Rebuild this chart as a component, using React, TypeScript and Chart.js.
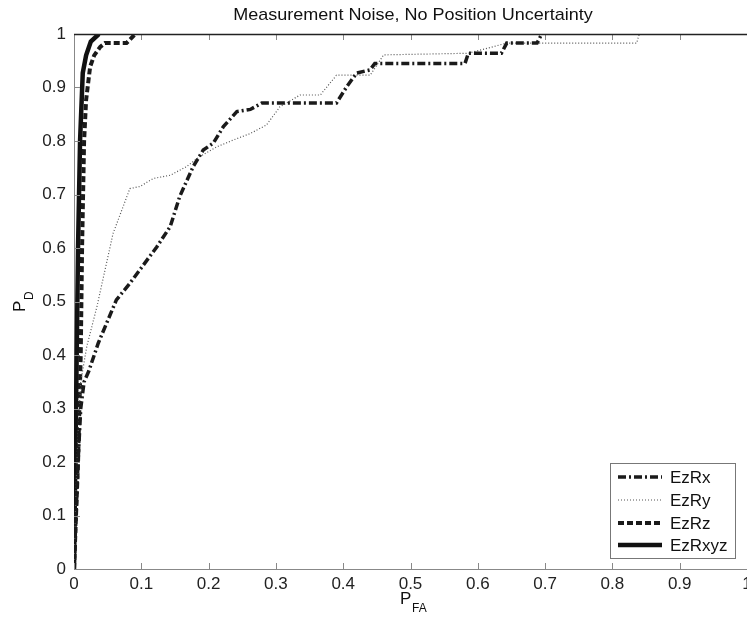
import React, { useEffect, useRef } from "react";
import { Chart, registerables } from "chart.js";

Chart.register(...registerables);

const TITLE = "Measurement Noise, No Position Uncertainty";
const SERIES_NAMES = ["EzRx", "EzRy", "EzRz", "EzRxyz"];
const TICKS = [0, 0.1, 0.2, 0.3, 0.4, 0.5, 0.6, 0.7, 0.8, 0.9, 1];

const ezRxX = [0, 0.003, 0.006, 0.01, 0.015, 0.022, 0.036, 0.063, 0.083, 0.123, 0.143, 0.157, 0.177, 0.192, 0.207, 0.222, 0.242, 0.262, 0.279, 0.39, 0.405, 0.42, 0.44, 0.447, 0.581, 0.586, 0.635, 0.643, 0.688, 0.695];
const ezRxY = [0, 0.1, 0.2, 0.3, 0.35, 0.37, 0.422, 0.503, 0.534, 0.602, 0.64, 0.696, 0.752, 0.783, 0.796, 0.827, 0.855, 0.859, 0.871, 0.871, 0.901, 0.927, 0.933, 0.945, 0.945, 0.964, 0.964, 0.983, 0.983, 1];

const ezRyX = [0, 0.003, 0.006, 0.01, 0.019, 0.034, 0.058, 0.083, 0.098, 0.118, 0.143, 0.167, 0.187, 0.212, 0.237, 0.262, 0.286, 0.306, 0.336, 0.366, 0.39, 0.44, 0.46, 0.586, 0.643, 0.836, 0.84];
const ezRyY = [0, 0.15, 0.25, 0.35, 0.416, 0.49, 0.627, 0.711, 0.715, 0.73, 0.736, 0.752, 0.771, 0.789, 0.802, 0.814, 0.83, 0.864, 0.886, 0.886, 0.923, 0.923, 0.961, 0.964, 0.983, 0.983, 1];

const ezRzX = [0, 0.003, 0.006, 0.008, 0.01, 0.012, 0.015, 0.018, 0.024, 0.03, 0.039, 0.046, 0.078, 0.091];
const ezRzY = [0, 0.1, 0.2, 0.3, 0.4, 0.6, 0.8, 0.877, 0.939, 0.96, 0.976, 0.983, 0.983, 1];

const ezRxyzX = [0, 0.002, 0.004, 0.006, 0.009, 0.013, 0.018, 0.025, 0.037];
const ezRxyzY = [0, 0.2, 0.4, 0.6, 0.8, 0.927, 0.96, 0.986, 1];

const pts = (xs: number[], ys: number[]) => xs.map((x, i) => ({ x, y: ys[i] }));

const FONT = "Arial, 'Liberation Sans', sans-serif";

const styles = [
  { color: "#1a1a1a", width: 3.5, dash: [8, 3, 2, 3] },
  { color: "#555555", width: 1.2, dash: [1, 2] },
  { color: "#1a1a1a", width: 4, dash: [6, 3] },
  { color: "#111111", width: 4.5, dash: [] as number[] },
];

const fmt = (v: number) => String(Number(Number(v).toFixed(1)));

const decorPlugin = {
  id: "decor",
  afterDraw(chart: any) {
    const ctx = chart.ctx;
    const a = chart.chartArea;
    const xs = chart.scales.x;
    const ys = chart.scales.y;
    ctx.save();
    ctx.strokeStyle = "#888";
    ctx.lineWidth = 1;
    TICKS.forEach((v) => {
      const px = Math.round(xs.getPixelForValue(v)) + 0.5;
      ctx.beginPath();
      ctx.moveTo(px, a.bottom);
      ctx.lineTo(px, a.bottom - 6);
      ctx.moveTo(px, a.top);
      ctx.lineTo(px, a.top + 6);
      ctx.stroke();
      const py = Math.round(ys.getPixelForValue(v)) + 0.5;
      ctx.beginPath();
      ctx.moveTo(a.left, py);
      ctx.lineTo(a.left + 6, py);
      ctx.stroke();
    });
    ctx.strokeStyle = "#222";
    ctx.lineWidth = 1.5;
    ctx.beginPath();
    ctx.moveTo(a.left, a.top + 0.5);
    ctx.lineTo(a.right + 40, a.top + 0.5);
    ctx.stroke();

    // title
    ctx.fillStyle = "#111";
    ctx.save();
    ctx.translate(413, 20);
    ctx.scale(1.06, 1);
    ctx.font = `17px ${FONT}`;
    ctx.textAlign = "center";
    ctx.textBaseline = "alphabetic";
    ctx.fillText(TITLE, 0, 0);
    ctx.restore();

    // x label P_FA
    ctx.textAlign = "left";
    ctx.textBaseline = "alphabetic";
    ctx.font = `17px ${FONT}`;
    ctx.fillText("P", 400, 604);
    ctx.font = `12px ${FONT}`;
    ctx.fillText("FA", 412, 612);

    // y label P_D
    ctx.save();
    ctx.translate(25, 312);
    ctx.rotate(-Math.PI / 2);
    ctx.font = `17px ${FONT}`;
    ctx.fillText("P", 0, 0);
    ctx.font = `12px ${FONT}`;
    ctx.fillText("D", 12, 8);
    ctx.restore();

    // legend
    const lx = 610.5, ly = 463.5, lw = 125, lh = 95;
    ctx.fillStyle = "#fff";
    ctx.fillRect(lx, ly, lw, lh);
    ctx.strokeStyle = "#777";
    ctx.lineWidth = 1;
    ctx.strokeRect(lx, ly, lw, lh);
    const rowY = [477, 500, 523, 545];
    SERIES_NAMES.forEach((name, i) => {
      const s = styles[i];
      ctx.strokeStyle = s.color;
      ctx.lineWidth = s.width;
      ctx.setLineDash(s.dash);
      ctx.beginPath();
      ctx.moveTo(618, rowY[i]);
      ctx.lineTo(662, rowY[i]);
      ctx.stroke();
      ctx.setLineDash([]);
      ctx.fillStyle = "#111";
      ctx.font = `17px ${FONT}`;
      ctx.textAlign = "left";
      ctx.textBaseline = "middle";
      ctx.fillText(name, 670, rowY[i] + 1);
    });
    ctx.restore();
  },
};

export default function App() {
  const ref = useRef<HTMLCanvasElement | null>(null);
  useEffect(() => {
    if (!ref.current) return;
    const allData = [pts(ezRxX, ezRxY), pts(ezRyX, ezRyY), pts(ezRzX, ezRzY), pts(ezRxyzX, ezRxyzY)];
    const chart = new Chart(ref.current, {
      type: "line",
      data: {
        datasets: SERIES_NAMES.map((name, i) => ({
          label: name,
          data: allData[i],
          borderColor: styles[i].color,
          borderWidth: styles[i].width,
          borderDash: styles[i].dash,
          pointRadius: 0,
          tension: 0,
          fill: false,
          clip: 0,
          borderJoinStyle: "miter" as const,
        })),
      },
      options: {
        animation: false,
        responsive: false,
        maintainAspectRatio: false,
        layout: { padding: { left: 0, top: 34, right: 33, bottom: 0 } },
        plugins: { legend: { display: false }, title: { display: false }, tooltip: { enabled: false } },
        scales: {
          x: {
            type: "linear",
            min: 0,
            max: 1,
            grid: { display: false },
            border: { display: true, color: "#888", width: 1 },
            ticks: { stepSize: 0.1, autoSkip: false, maxRotation: 0, padding: -3, color: "#222", font: { family: FONT, size: 17 }, callback: (v: any) => fmt(v) },
            afterFit: (s: any) => { s.height = 54; },
          },
          y: {
            type: "linear",
            min: 0,
            max: 1,
            grid: { display: false },
            border: { display: true, color: "#888", width: 1 },
            ticks: { stepSize: 0.1, autoSkip: false, padding: 0, color: "#222", font: { family: FONT, size: 17 }, callback: (v: any) => fmt(v) },
            afterFit: (s: any) => { s.width = 74; },
          },
        },
      },
      plugins: [decorPlugin],
    });
    return () => chart.destroy();
  }, []);
  return (
    <div style={{ position: "fixed", left: 0, top: 0, width: 747, height: 623, overflow: "hidden", background: "#fff" }}>
      <canvas ref={ref} width={780} height={623} style={{ display: "block", width: 780, height: 623 }} />
    </div>
  );
}
